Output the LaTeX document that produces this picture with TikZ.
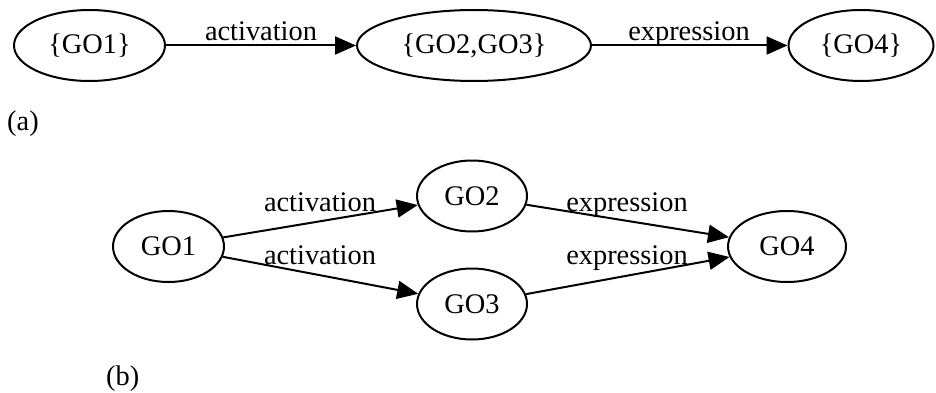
\documentclass[tikz,border=0pt]{standalone}
\usepackage{fontspec}
\setmainfont{Liberation Serif}
\usetikzlibrary{arrows.meta,shapes.geometric}
\begin{document}
\begin{tikzpicture}[x=1pt,y=-1pt,
  every node/.style={font=\fontsize{28.4}{34}\selectfont},
  state/.style={ellipse,draw,line width=2pt,inner sep=0pt,minimum height=71pt},
  link/.style={line width=2pt,-{Triangle[length=21pt,width=18pt]}},
  lbl/.style={anchor=base,inner sep=0pt}]
\useasboundingbox (0,0) rectangle (936,393);

% (a) merged sets
\node[state,minimum width=151pt] (a1) at (89.5,45.5) {\{GO1\}};
\node[state,minimum width=234pt] (a23) at (474,45.5) {\{GO2,GO3\}};
\node[state,minimum width=145pt] (a4) at (861,45.5) {\{GO4\}};
\draw[link] (a1) -- (a23);
\draw[link] (a23) -- (a4);
\node[lbl] (la1) at (261,41) {activation};
\node[lbl] (la2) at (689,41) {expression};
\node[lbl,anchor=base west] (capa) at (7,130) {(a)};

% (b) individual terms
\node[state,minimum width=111pt] (g1) at (168.5,246.5) {GO1};
\node[state,minimum width=110pt] (g2) at (472,196) {GO2};
\node[state,minimum width=110pt] (g3) at (472,304) {GO3};
\node[state,minimum width=118pt] (g4) at (787,246.5) {GO4};
\draw[link] (g1) -- (g2);
\draw[link] (g1) -- (g3);
\draw[link] (g2) -- (g4);
\draw[link] (g3) -- (g4);
\node[lbl] (lb1) at (320,211) {activation};
\node[lbl] (lb2) at (320,264) {activation};
\node[lbl] (lb3) at (627,211) {expression};
\node[lbl] (lb4) at (627,264) {expression};
\node[lbl,anchor=base west] (capb) at (106,385) {(b)};
\end{tikzpicture}
\end{document}
